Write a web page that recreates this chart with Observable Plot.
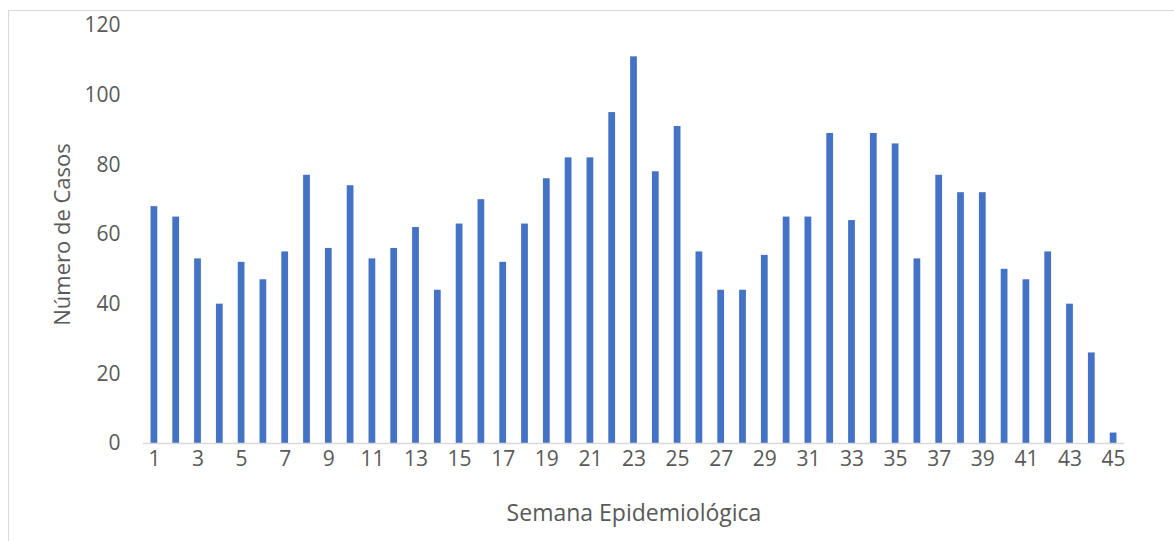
<!DOCTYPE html>
<html>
<head>
<meta charset="utf-8">
<script src="https://cdn.jsdelivr.net/npm/d3@7"></script>
<script src="https://cdn.jsdelivr.net/npm/@observablehq/plot@0.6"></script>
<style>
  html, body { margin: 0; padding: 0; background: #fff; }
  #wrap { position: relative; width: 1174px; height: 541px; overflow: hidden; }
  #border { position: absolute; left: 8px; top: 10px; width: 1300px; height: 700px; border: 1px solid #d9d9d9; box-sizing: border-box; }
  #chart { position: absolute; left: 0; top: 0; }
</style>
</head>
<body>
<div id="wrap"><div id="border"></div><div id="chart"></div></div>
<script>
const semanas = d3.range(1, 46);
const casos = [68, 65, 53, 40, 52, 47, 55, 77, 56, 74, 53, 56, 62, 44, 63, 70, 52, 63, 76, 82,
               82, 95, 111, 78, 91, 55, 44, 44, 54, 65, 65, 89, 64, 89, 86, 53, 77, 72, 72, 50,
               47, 55, 40, 26, 3];
const xTicks = semanas.filter(d => d % 2 === 1);
const yTicks = [0, 20, 40, 60, 80, 100, 120];
const xTitle = "Semana Epidemiológica";
const yTitle = "Número de Casos";

const data = semanas.map((s, i) => ({semana: s, casos: casos[i]}));

const chart = Plot.plot({
  width: 1174,
  height: 541,
  marginLeft: 143,
  marginRight: 50,
  marginTop: 25,
  marginBottom: 98,
  style: {fontFamily: "Open Sans", fontSize: "21px", color: "#595959", background: "transparent", overflow: "visible"},
  x: {type: "band", domain: semanas, paddingInner: 0.69, paddingOuter: 0.345, label: null},
  y: {domain: [0, 120], label: null},
  marks: [
    Plot.barY(data, {x: "semana", y: "casos", fill: "#4472C4"}),
    Plot.ruleY([0], {stroke: "#d9d9d9", strokeWidth: 1.5}),
    Plot.axisX({ticks: xTicks, tickSize: 0, tickPadding: 8, label: null, fill: "#595959", fontSize: 21}),
    Plot.axisY({ticks: yTicks, tickSize: 0, tickPadding: 23, label: null, fill: "#595959", fontSize: 21}),
    Plot.text([yTitle], {frameAnchor: "left", dx: -81, rotate: -90, textAnchor: "middle", fill: "#595959", fontSize: 22}),
    Plot.text([xTitle], {frameAnchor: "bottom", dy: 77, textAnchor: "middle", fill: "#595959", fontSize: 23})
  ]
});
document.getElementById("chart").appendChild(chart);
</script>
</body>
</html>
